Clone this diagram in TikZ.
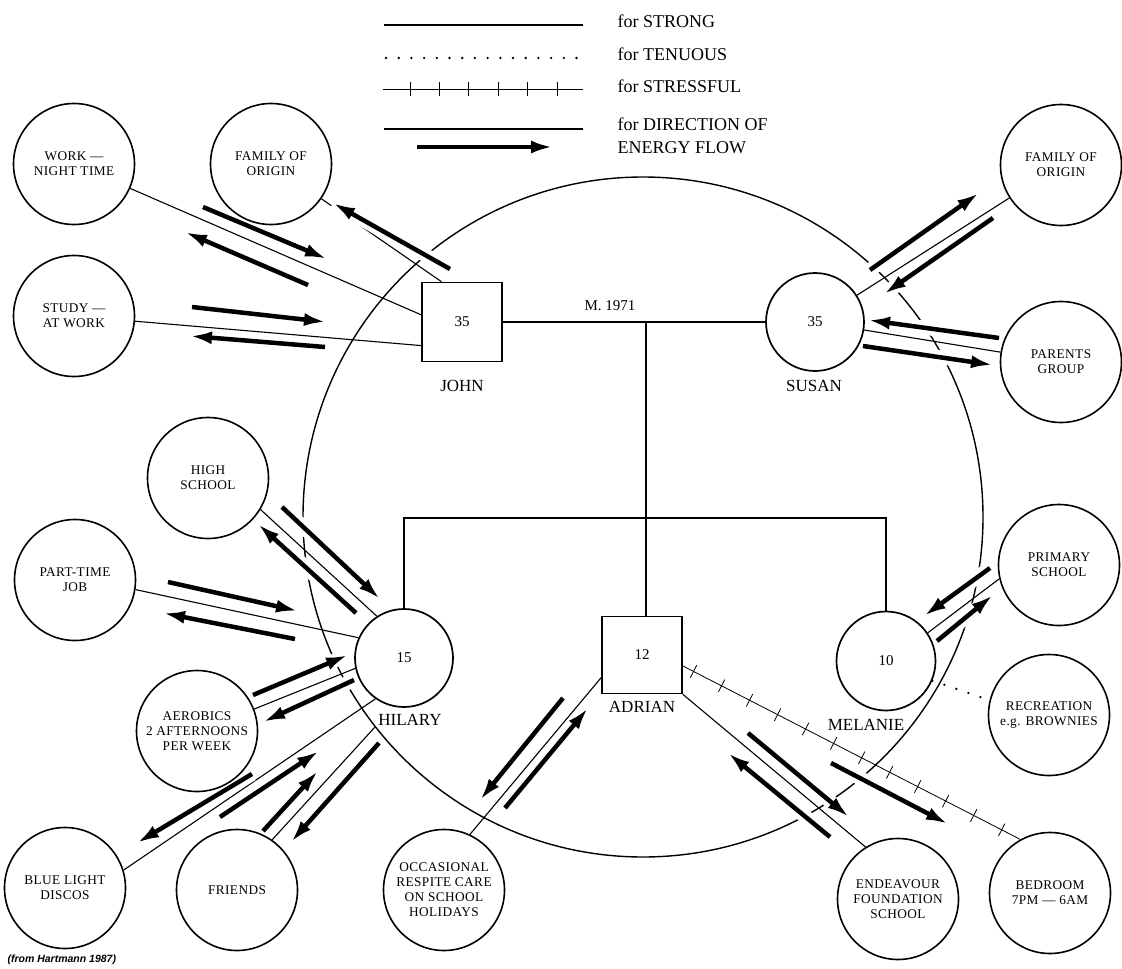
\documentclass[tikz,border=0pt]{standalone}
\usepackage{fontspec}
\setmainfont{Liberation Serif}
\setsansfont{Liberation Sans}
\newfontfamily\capsfont[LetterSpace=3]{Liberation Serif}
\usetikzlibrary{arrows.meta,decorations.markings,calc}
\pgfdeclarelayer{bg}
\pgfdeclarelayer{arr}
\pgfsetlayers{bg,arr,main}
\begin{document}
\begin{tikzpicture}[x=1pt,y=-1pt,
  sat/.style={circle,draw,line width=1.6pt,minimum size=121pt,inner sep=0pt,align=center,
    font=\capsfont\fontsize{13.3}{15}\selectfont},
  perssq/.style={draw,line width=1.7pt,inner sep=0pt,minimum width=80pt,minimum height=79pt,
    font=\fontsize{15}{18}\selectfont},
  persci/.style={circle,draw,line width=1.7pt,inner sep=0pt,minimum size=98pt,
    font=\fontsize{15}{18}\selectfont},
  pname/.style={font=\fontsize{17}{20}\selectfont},
  legtext/.style={anchor=west,font=\fontsize{18}{21}\selectfont},
  conn/.style={line width=1.1pt},
  tenuous/.style={line width=2.6pt,dash pattern=on 0pt off 12.7pt,line cap=round},
  stressmarks/.style n args={3}{line width=0.8pt,postaction={decorate,decoration={markings,
    mark=between positions #1 and #2 step #3 with {\draw[line width=0.8pt] (0pt,-7pt)--(0pt,7pt);}}}},
  flow/.style={line width=4.5pt,-{Latex[length=22pt,width=13pt]},
    preaction={draw=white,line width=14pt,-}},
]
\useasboundingbox (0,0) rectangle (1122,969);

% ---------- legend ----------
\coordinate (ls1) at (384,25);  \coordinate (ls2) at (583,25);
\coordinate (lt1) at (386,58);  \coordinate (lt2) at (580,58);
\coordinate (lx1) at (383,89);  \coordinate (lx2) at (583,89);
\coordinate (ld1) at (384,129); \coordinate (ld2) at (583,129);
\coordinate (la1) at (417,147); \coordinate (la2) at (553,147);
\node[legtext] (tstrong) at (614,21) {for STRONG};
\node[legtext] (tten) at (614,54) {for TENUOUS};
\node[legtext] (tstr) at (614,86) {for STRESSFUL};
\node[legtext] (tdir) at (614,124) {for DIRECTION OF};
\node[legtext] (tflow) at (614,148) {ENERGY FLOW};

% ---------- family ----------
\node[perssq] (john) at (462,322) {35};
\node[persci] (susan) at (815,322) {35};
\node[persci] (hilary) at (404,658) {15};
\node[perssq,minimum height=77pt] (adrian) at (642,655) {12};
\node[persci,minimum size=99pt] (melanie) at (886,661) {10};
\node[pname] (johnl) at (462,386) {JOHN};
\node[pname] (susanl) at (814,386) {SUSAN};
\node[pname] (hilaryl) at (410,720) {HILARY};
\node[pname] (adrianl) at (642,707) {ADRIAN};
\node[pname] (melaniel) at (866,725) {MELANIE};
\node[font=\fontsize{15}{18}\selectfont] (marr) at (610,306) {M. 1971};

% ---------- satellites ----------
\node[sat] (work) at (74,164) {WORK —\\NIGHT TIME};
\node[sat] (famL) at (271,164) {FAMILY OF\\ORIGIN};
\node[sat] (study) at (74,316) {STUDY —\\AT WORK};
\node[sat] (famR) at (1061,165) {FAMILY OF\\ORIGIN};
\node[sat] (parents) at (1061,362) {PARENTS\\GROUP};
\node[sat] (hs) at (208,478) {HIGH\\SCHOOL};
\node[sat] (pt) at (75,580) {PART-TIME\\JOB};
\node[sat] (aer) at (197,731) {AEROBICS\\2 AFTERNOONS\\PER WEEK};
\node[sat] (bl) at (65,888) {BLUE LIGHT\\DISCOS};
\node[sat] (friends) at (237,890) {FRIENDS};
\node[sat] (occ) at (444,890) {OCCASIONAL\\RESPITE CARE\\ON SCHOOL\\HOLIDAYS};
\node[sat] (endv) at (898,899) {ENDEAVOUR\\FOUNDATION\\SCHOOL};
\node[sat] (bed) at (1050,893) {BEDROOM\\7PM — 6AM};
\node[sat] (rec) at (1049,715) {RECREATION\\e.g. BROWNIES};
\node[sat] (prim) at (1059,565) {PRIMARY\\SCHOOL};

\node[anchor=west,font=\sffamily\bfseries\itshape\fontsize{10.5}{12}\selectfont] (src) at (4,960) {(from Hartmann 1987)};

\coordinate (mj) at (646,322);
\coordinate (sib) at (646,518);
\coordinate (fr) at (375,727);

% ---------- background: big circle, connectors ----------
\begin{pgfonlayer}{bg}
\draw[line width=1.4pt] (643,517) circle[radius=340pt];
\draw[conn] (ls1) -- (ls2);
\draw[tenuous] (lt1) -- (lt2);
\draw[stressmarks={27pt}{177pt}{29.4pt}] (lx1) -- (lx2);
\draw[conn] (ld1) -- (ld2);

\draw[line width=1.4pt] (john.east) -- (susan.west);
\draw[line width=1.4pt] (mj) -- (mj |- adrian.north);
\draw[line width=1.4pt] (hilary.north) |- (sib) -| (melanie.north);

\draw[conn] (work) -- (john.170);
\draw[conn] (famL) -- (john.117);
\draw[conn] (study) -- (john.210);
\draw[conn] (susan) -- (famR);
\draw[conn] (susan) -- (parents);
\draw[conn] (hs.-31) -- (hilary.123);
\draw[conn] (pt.-9) -- (hilary.156);
\draw[conn] (aer.21) -- (hilary.192);
\draw[conn] (bl.17) -- (hilary.235);
\draw[conn] (friends.55) -- (fr);
\draw[conn] (occ.65) -- (adrian.209);
\draw[conn] (adrian.south east) -- (endv.122);
\draw[stressmarks={12pt}{366pt}{31.5pt}] (adrian.-15) -- (bed.119);
\draw[conn] (melanie.34) -- (prim.193);
\draw[tenuous] (melanie.-23) -- (rec.166);
\end{pgfonlayer}

% ---------- energy flow arrows ----------
\begin{pgfonlayer}{arr}
\draw[flow] (la1) -- (la2);
\draw[flow] (203,207) -- (327,259);
\draw[flow] (308,285) -- (185,232);
\draw[flow] (450,269) -- (333,203);
\draw[flow] (192,307) -- (326,322);
\draw[flow] (325,347) -- (190,336);
\draw[flow] (870,270) -- (979,193);
\draw[flow] (993,218) -- (884,294);
\draw[flow] (999,338) -- (868,320);
\draw[flow] (863,346) -- (993,365);
\draw[flow] (282,507) -- (380,599);
\draw[flow] (356,613) -- (258,524);
\draw[flow] (168,582) -- (298,611);
\draw[flow] (295,639) -- (163,613);
\draw[flow] (253,695) -- (348,655);
\draw[flow] (354,680) -- (263,722);
\draw[flow] (252,774) -- (137,843);
\draw[flow] (220,817) -- (319,751);
\draw[flow] (263,831) -- (318,771);
\draw[flow] (379,743) -- (291,842);
\draw[flow] (563,698) -- (480,800);
\draw[flow] (505,808) -- (588,708);
\draw[flow] (748,733) -- (849,817);
\draw[flow] (830,837) -- (728,753);
\draw[flow] (831,763) -- (948,824);
\draw[flow] (990,568) -- (924,616);
\draw[flow] (937,641) -- (993,595);
\end{pgfonlayer}
\end{tikzpicture}
\end{document}
